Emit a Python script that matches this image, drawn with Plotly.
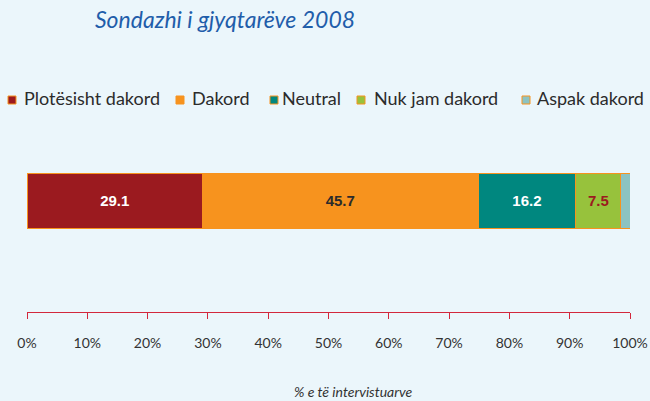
import plotly.graph_objects as go

categories = ["Plotësisht dakord", "Dakord", "Neutral", "Nuk jam dakord", "Aspak dakord"]
values = [29.1, 45.7, 16.2, 7.5, 1.5]
labels = ["29.1", "45.7", "16.2", "7.5", ""]
colors = ["#9B1A1F", "#F7931E", "#00877F", "#97C23C", "#8CC3C2"]
text_colors = ["#FFFFFF", "#2B2B2B", "#FFFFFF", "#9B1A1F", "#2B2B2B"]
tick_vals = [0, 10, 20, 30, 40, 50, 60, 70, 80, 90, 100]
tick_text = [f"{v}%" for v in tick_vals]

# legend layout (pixel positions of each legend entry's marker and text)
legend_marker_px = [8, 176, 270, 357, 522]
legend_text_px = [22, 190, 280, 372, 535]

W, H = 650, 401
ML, MR, MT, MB = 27, 20, 130, 89
PW, PH = W - ML - MR, H - MT - MB


def px_to_paper_x(px):
    return (px - ML) / PW


def py_to_paper_y(py):
    return (H - MB - py) / PH


fig = go.Figure()
for c, v, t, col, tc in zip(categories, values, labels, colors, text_colors):
    fig.add_trace(go.Bar(
        x=[v], y=[0], name=c, orientation="h", width=1,
        marker=dict(color=col, line=dict(color="#F7931E", width=1)),
        text=[t], textposition="inside", insidetextanchor="middle",
        textfont=dict(color=tc, size=15, family="Liberation Sans Narrow, Arial Narrow, sans-serif", weight="bold"),
        hoverinfo="x+name", showlegend=False,
    ))

# custom legend
for c, col, mx, tx in zip(categories, colors, legend_marker_px, legend_text_px):
    fig.add_shape(type="rect", xref="paper", yref="paper",
                  x0=px_to_paper_x(mx), x1=px_to_paper_x(mx + 8),
                  y0=py_to_paper_y(104), y1=py_to_paper_y(96),
                  fillcolor=col, line=dict(color="#F7931E", width=1))
    fig.add_annotation(text=c, xref="paper", yref="paper",
                       x=px_to_paper_x(tx), y=py_to_paper_y(98),
                       xanchor="left", yanchor="middle", showarrow=False,
                       font=dict(size=18, color="#2B2B2B", family="Lato, sans-serif"))

bg = "#EBF6FB"
fig.update_layout(
    barmode="stack",
    width=W, height=H,
    paper_bgcolor=bg, plot_bgcolor=bg,
    margin=dict(l=ML, r=MR, t=MT, b=MB, autoexpand=False),
    showlegend=False,
    title=dict(text="Sondazhi i gjyqtarëve 2008", x=95 / W, xanchor="left", y=1 - 20 / H, yanchor="middle",
               font=dict(size=23, color="#1F5DAA", family="Lato, sans-serif", style="italic")),
    xaxis=dict(range=[0, 100], tickvals=tick_vals, ticktext=tick_text, automargin=False,
               showgrid=False, zeroline=False, showline=True, linecolor="#D2283C", linewidth=1,
               ticks="outside", ticklen=6, tickcolor="#D2283C", tickwidth=1,
               tickfont=dict(size=14, color="#333333", family="Lato, sans-serif"),
               ticklabelstandoff=12, fixedrange=True),
    yaxis=dict(range=[-2.02, 1.29], visible=False, fixedrange=True, automargin=False),
)
fig.add_annotation(text="<i>% e të intervistuarve</i>", xref="paper", yref="paper",
                   x=px_to_paper_x(353), y=py_to_paper_y(391), xanchor="center", yanchor="middle",
                   showarrow=False,
                   font=dict(size=14, color="#333333", family="Lato, sans-serif"))
fig.write_html("out.html", config={"displayModeBar": False},
               post_script="document.body.style.margin='0';document.body.style.overflow='hidden';")
